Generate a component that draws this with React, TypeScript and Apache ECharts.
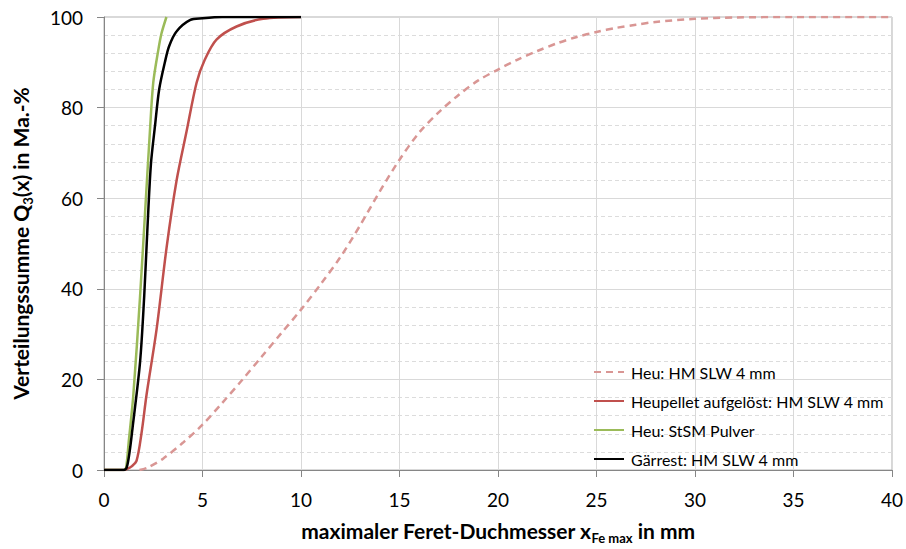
import React, { useEffect, useRef } from "react";
import * as echarts from "echarts";

const xTicks = { min: 0, max: 40, interval: 5 };
const yTicks = { min: 0, max: 100, interval: 20 };

const heuX = [1.8, 2.2, 3, 4, 5, 6, 7, 8, 9, 10, 11, 12, 13, 14, 15, 16, 17, 18, 19, 20, 21, 22, 23, 24, 25, 26, 27, 28, 30, 32, 35, 40];
const heuY = [0, 0.5, 2.5, 6, 10, 14.8, 19.8, 25, 30.2, 35.4, 41, 47, 54, 61.5, 68.5, 74.5, 79, 82.8, 86, 88.4, 90.6, 92.5, 94.2, 95.6, 96.7, 97.6, 98.3, 98.9, 99.6, 99.9, 100, 100];

const pelletX = [0, 1.0, 1.2, 1.4, 1.65, 1.9, 2.16, 2.67, 3.18, 3.68, 4.19, 4.7, 5.12, 5.71, 6.73, 8.08, 10];
const pelletY = [0, 0, 0.3, 0.8, 2, 8, 16.6, 31.1, 49.2, 63.8, 74.7, 85.5, 90.6, 95, 97.9, 99.6, 100];

const stsmX = [0, 1.0, 1.12, 1.25, 1.49, 1.83, 2.08, 2.33, 2.5, 2.76, 2.92, 3.17];
const stsmY = [0, 0, 0.5, 6, 16.6, 38.3, 56.5, 74.7, 85.5, 92.8, 96.4, 100];

const gaerX = [0, 1.0, 1.15, 1.3, 1.45, 1.83, 2.04, 2.2, 2.38, 2.59, 2.8, 3.09, 3.3, 3.68, 4.36, 5, 6, 10];
const gaerY = [0, 0, 0.5, 4, 9.3, 23.8, 38.3, 52.9, 67.4, 76, 84, 90, 93.5, 96.8, 99.3, 99.7, 100, 100];

const seriesNames = [
  "Heu: HM SLW 4 mm",
  "Heupellet aufgelöst: HM SLW 4 mm",
  "Heu: StSM Pulver",
  "Gärrest: HM SLW 4 mm",
];

const pairs = (xs: number[], ys: number[]) => xs.map((x, i) => [x, ys[i]]);

const FONT = "Lato";

export default function App() {
  const ref = useRef<HTMLDivElement>(null);
  useEffect(() => {
    if (!ref.current) return;
    const chart = echarts.init(ref.current, null, { renderer: "svg" });
    const mk = (name: string, data: number[][], color: string, width: number, type: any) => ({
      name,
      type: "line",
      data,
      symbol: "none",
      smooth: 0.3,
      lineStyle: { color, width, type },
      itemStyle: { color },
    });
    const rich = {
      b: { fontSize: 21, fontWeight: "bold", color: "#000", fontFamily: FONT },
      s: { fontSize: 13, fontWeight: "bold", color: "#000", fontFamily: FONT, verticalAlign: "bottom", padding: [14, 0, 0, 0] },
    };
    chart.setOption({
      animation: false,
      textStyle: { fontFamily: FONT },
      grid: { left: 104, right: 13, top: 17, bottom: 73, show: true, borderColor: "#b3b3b3", borderWidth: 1 },
      legend: {
        orient: "vertical",
        left: 593,
        top: 364,
        padding: 0,
        itemWidth: 30,
        itemHeight: 14,
        itemGap: 13,
        data: seriesNames,
        itemStyle: { opacity: 0 },
        textStyle: { fontFamily: FONT, fontSize: 16, color: "#000", padding: [0, 0, 0, 2] },
      },
      xAxis: {
        type: "value",
        min: xTicks.min,
        max: xTicks.max,
        interval: xTicks.interval,
        axisLine: { lineStyle: { color: "#868686", width: 1 } },
        axisTick: { show: true, length: 7, lineStyle: { color: "#868686" } },
        axisLabel: { color: "#000", fontSize: 19, margin: 20, fontFamily: FONT },
        splitLine: { show: true, lineStyle: { color: "#d9d9d9", width: 1 } },
        name: "{b|maximaler Feret-Duchmesser x}{s|Fe max}{b| in mm}",
        nameLocation: "middle",
        nameGap: 47,
        nameTextStyle: { rich },
      },
      yAxis: {
        type: "value",
        min: yTicks.min,
        max: yTicks.max,
        interval: yTicks.interval,
        axisLine: { show: true, lineStyle: { color: "#868686", width: 1 } },
        axisTick: { show: true, length: 7, lineStyle: { color: "#868686" } },
        axisLabel: { color: "#000", fontSize: 19, margin: 21, fontFamily: FONT },
        splitLine: { show: true, lineStyle: { color: "#d9d9d9", width: 1 } },
        minorTick: { show: false, splitNumber: 5 },
        minorSplitLine: { show: true, lineStyle: { color: "#dcdcdc", width: 1, type: [4, 3] } },
        name: "{b|Verteilungssumme Q}{s|3}{b|(x) in Ma.-%}",
        nameLocation: "middle",
        nameGap: 70,
        nameRotate: 90,
        nameTextStyle: { rich },
      },
      series: [
        mk(seriesNames[0], pairs(heuX, heuY), "#d99694", 2.5, [7, 5]),
        mk(seriesNames[1], pairs(pelletX, pelletY), "#c0504d", 2.5, "solid"),
        mk(seriesNames[2], pairs(stsmX, stsmY), "#9bbb59", 2.5, "solid"),
        mk(seriesNames[3], pairs(gaerX, gaerY), "#000000", 2.5, "solid"),
      ],
    });
    return () => chart.dispose();
  }, []);
  return <div ref={ref} style={{ width: 906, height: 549, position: "absolute", left: 0, top: 0 }} />;
}
